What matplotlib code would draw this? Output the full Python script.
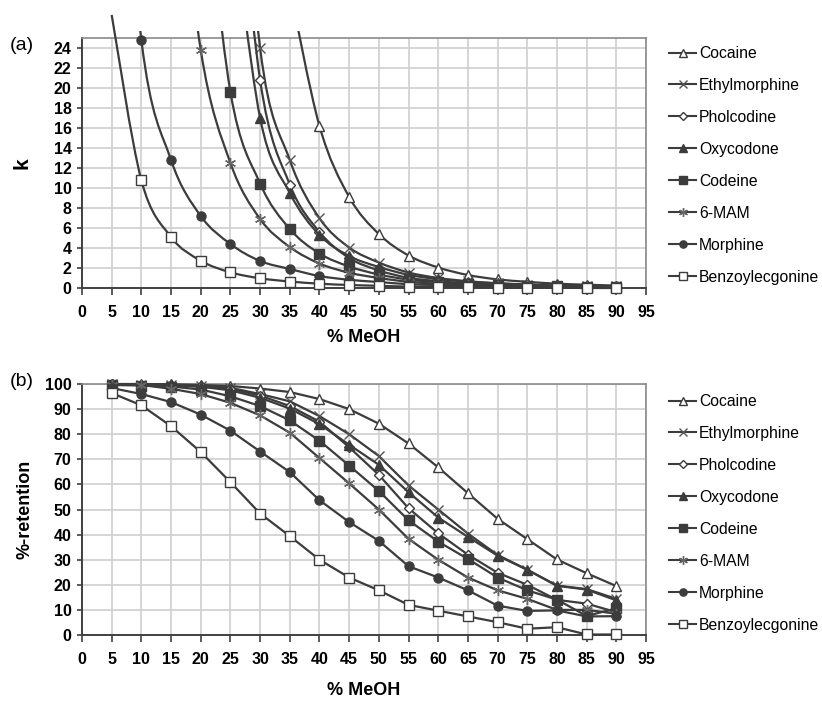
import numpy as np
import matplotlib
matplotlib.use("Agg")
import matplotlib.pyplot as plt
from matplotlib.path import Path
from matplotlib.patches import PathPatch
from matplotlib.lines import Line2D

plt.rcParams['font.family'] = ['Liberation Sans', 'DejaVu Sans']

meoh = np.arange(5, 95, 5)  # 5 .. 90 % MeOH

names = ["Cocaine", "Ethylmorphine", "Pholcodine", "Oxycodone",
         "Codeine", "6-MAM", "Morphine", "Benzoylecgonine"]

# (a) retention factor k (first value of each is above the plot top)
k_start = [35, 25, 25, 25, 20, 15, 5, 5]
k_cocaine = [30.0, 16.2, 9.1, 5.4, 3.25, 2.05, 1.3, 0.86, 0.62, 0.43, 0.33, 0.24]
k_ethyl = [60.0, 24.0, 12.8, 6.97, 4.05, 2.55, 1.55, 1.0, 0.68, 0.47, 0.35, 0.25, 0.22, 0.17]
k_pholc = [50.0, 20.8, 10.35, 5.6, 3.0, 1.76, 1.02, 0.68, 0.47, 0.33, 0.25, 0.16, 0.14, 0.1]
k_oxy = [39.0, 17.0, 9.5, 5.3, 3.2, 2.1, 1.32, 0.88, 0.64, 0.46, 0.35, 0.24, 0.22, 0.16]
k_codeine = [45.0, 19.6, 10.45, 5.9, 3.45, 2.15, 1.35, 0.84, 0.59, 0.43, 0.3, 0.22, 0.16, 0.08, 0.12]
k_mam = [50.0, 23.8, 12.5, 6.9, 4.1, 2.45, 1.53, 1.0, 0.62, 0.43, 0.3, 0.22, 0.17, 0.11, 0.11, 0.09]
k_morph = [61.0, 24.8, 12.8, 7.2, 4.4, 2.7, 1.9, 1.2, 0.82, 0.6, 0.38, 0.3, 0.22, 0.13, 0.11, 0.11, 0.08, 0.08]
k_benzo = [27.3, 10.77, 5.1, 2.73, 1.57, 0.97, 0.65, 0.43, 0.3, 0.22, 0.14, 0.11, 0.08, 0.05, 0.03, 0.03, 0.0, 0.0]
k_data = [k_cocaine, k_ethyl, k_pholc, k_oxy, k_codeine, k_mam, k_morph, k_benzo]

# (b) %-retention
r_cocaine = [100, 100, 99.9, 99.6, 99.2, 98.2, 96.8, 94.0, 90.0, 84.2, 76.3, 66.8, 56.5, 46.3, 38.2, 30.1, 24.6, 19.5]
r_ethyl = [99.9, 99.8, 99.6, 99.3, 98.5, 96.0, 93.1, 87.2, 80.0, 71.3, 59.6, 50.0, 40.4, 31.9, 26.0, 19.7, 18.3, 14.4]
r_pholc = [99.9, 99.8, 99.5, 99.2, 98.0, 95.4, 91.2, 85.0, 74.8, 63.8, 50.5, 40.5, 32.0, 24.8, 20.0, 14.0, 12.5, 9.1]
r_oxy = [99.9, 99.7, 99.4, 98.9, 97.5, 94.5, 90.2, 84.0, 75.8, 67.8, 56.9, 46.8, 39.1, 31.6, 26.0, 19.6, 18.1, 13.8]
r_codeine = [99.6, 99.4, 99.0, 97.8, 95.1, 91.2, 85.5, 77.4, 67.5, 57.4, 45.7, 37.2, 30.3, 22.9, 17.8, 14.1, 7.6, 10.6]
r_mam = [99.8, 99.6, 98.1, 96.0, 92.5, 87.5, 80.6, 70.5, 60.4, 50.0, 38.3, 30.0, 22.9, 17.8, 14.4, 10.0, 10.0, 8.5]
r_morph = [98.4, 96.0, 92.8, 87.8, 81.4, 73.1, 64.9, 53.7, 45.0, 37.5, 27.4, 22.9, 17.8, 11.7, 9.6, 9.8, 7.4, 7.5]
r_benzo = [96.4, 91.5, 83.2, 72.9, 60.9, 48.4, 39.4, 30.0, 22.9, 17.8, 12.0, 9.7, 7.4, 5.1, 2.5, 3.1, 0.2, 0.2]
r_data = [r_cocaine, r_ethyl, r_pholc, r_oxy, r_codeine, r_mam, r_morph, r_benzo]

LC = '#3c3c3c'
styles = [
    dict(marker='^', mfc='white', mec=LC, ms=7, mew=1.0),
    dict(marker='x', mfc='none', mec='#555555', ms=7, mew=1.0),
    dict(marker='D', mfc='white', mec=LC, ms=5, mew=1.0),
    dict(marker='^', mfc=LC, mec=LC, ms=7, mew=1.0),
    dict(marker='s', mfc=LC, mec=LC, ms=6.5, mew=1.0),
    dict(marker=(6, 2, 0), mfc='none', mec='#666666', ms=8, mew=1.0),
    dict(marker='o', mfc=LC, mec=LC, ms=6.5, mew=1.0),
    dict(marker='s', mfc='white', mec=LC, ms=7, mew=1.0),
]


def smooth_path(xs, ys):
    # excel style smoothed line: bezier through every point
    pts = np.column_stack([xs, ys]).astype(float)
    n = len(pts)
    verts = [pts[0]]
    codes = [Path.MOVETO]
    for i in range(n - 1):
        p0 = pts[max(i - 1, 0)]
        p1 = pts[i]
        p2 = pts[i + 1]
        p3 = pts[min(i + 2, n - 1)]
        verts += [p1 + (p2 - p0) / 6, p2 - (p3 - p1) / 6, p2]
        codes += [Path.CURVE4] * 3
    return Path(verts, codes)


def style_axes(ax, ymax, ystep, xpad):
    ax.set_xlim(0, 95)
    ax.set_ylim(0, ymax)
    ax.set_xticks(np.arange(0, 96, 5))
    ax.set_yticks(np.arange(0, ymax + 0.1, ystep))
    ax.grid(True, color='#d2d2d2', lw=1.3)
    ax.set_axisbelow(True)
    for s in ['top', 'right']:
        ax.spines[s].set_color('#8a8a8a')
        ax.spines[s].set_linewidth(1.2)
    for s in ['left', 'bottom']:
        ax.spines[s].set_color('#404040')
        ax.spines[s].set_linewidth(1.4)
    ax.tick_params(axis='x', length=5, width=1.2, color='#404040', pad=7, labelsize=11.5)
    ax.tick_params(axis='y', length=3.5, width=1.2, color='#404040', pad=4, labelsize=11.5)
    for lab in ax.get_xticklabels() + ax.get_yticklabels():
        lab.set_fontweight('bold')
    ax.set_xlabel('% MeOH', fontsize=13, fontweight='bold', labelpad=xpad)


def legend_handles():
    hs = []
    for st in styles:
        d = dict(st)
        d['ms'] = d['ms'] * 0.8
        hs.append(Line2D([], [], color=LC, lw=1.5, **d))
    return hs


fig = plt.figure(figsize=(8.22, 7.01), dpi=100)
ax1 = fig.add_axes([82 / 822, 1 - 288 / 701, 564 / 822, 250 / 701])
ax2 = fig.add_axes([82 / 822, 1 - 635 / 701, 564 / 822, 251 / 701])

# curves of (a) go a little above the frame: draw them on a taller transparent axes
# with the same scale (k from -1 to 25.75, 10 px per unit)
ax1c = fig.add_axes([82 / 822, 1 - 298 / 701, 564 / 822, 267.5 / 701])
ax1c.set_xlim(0, 95)
ax1c.set_ylim(-1, 25.75)
ax1c.axis('off')

for i, (name, ks) in enumerate(zip(names, k_data)):
    x = meoh[meoh >= k_start[i]]
    ks = np.array(ks)
    patch = PathPatch(smooth_path(x, ks), fill=False, edgecolor=LC, lw=1.6, zorder=3 + i)
    ax1c.add_patch(patch)
    if name == "Benzoylecgonine":
        patch.set_clip_on(False)
    keep = ks <= 25
    ax1c.plot(x[keep], ks[keep], ls='none', clip_on=False, zorder=3.5 + i, **styles[i])

style_axes(ax1, 25, 2, 7)
ax1.set_yticks(np.arange(0, 25, 2))
ax1.set_ylabel('k', fontsize=15, fontweight='bold', labelpad=16)

# panel (b): %-retention
for i, (name, rs) in enumerate(zip(names, r_data)):
    ax2.plot(meoh, rs, color=LC, lw=1.6, clip_on=False, zorder=3 + i, **styles[i])

style_axes(ax2, 100, 10, 11)
ax2.set_ylabel('%-retention', fontsize=13, fontweight='bold', labelpad=8)

fig.text(10 / 822, 1 - 46 / 701, '(a)', fontsize=14, va='center', ha='left')
fig.text(10 / 822, 1 - 382 / 701, '(b)', fontsize=14, va='center', ha='left')

for ax, top in [(ax1, 1 - 46 / 701), (ax2, 1 - 394 / 701)]:
    ax.legend(legend_handles(), names, loc='upper left', bbox_to_anchor=(669 / 822, top),
              bbox_transform=fig.transFigure, frameon=False, fontsize=11.3,
              handlelength=1.75, handletextpad=0.15, labelspacing=1.08,
              borderpad=0, borderaxespad=0)

fig.savefig('out.png', dpi=100)
